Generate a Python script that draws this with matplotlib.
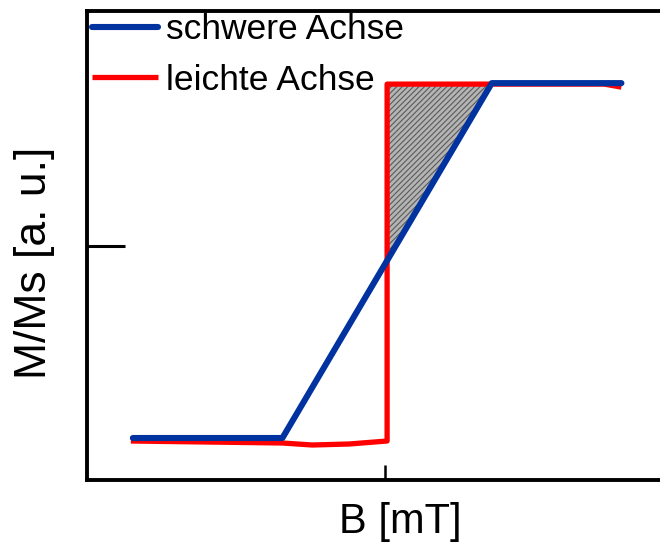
import numpy as np
import matplotlib
matplotlib.use("Agg")
import matplotlib.pyplot as plt

plt.rcParams['font.family'] = ['Liberation Sans', 'DejaVu Sans']
plt.rcParams['hatch.linewidth'] = 0.8

# hard axis: linear ramp between the two saturation levels
hard_B = [-2.53, -1.03, 1.07, 2.37]
hard_M = [-1.92, -1.92, 1.63, 1.63]

# easy axis: square loop, switching at B = 0
easy_B = [-2.55, -1.03, -0.73, -0.36, 0.02, 0.02, 1.00, 2.20, 2.37]
easy_M = [-1.95, -1.97, -1.99, -1.98, -1.95, 1.62, 1.62, 1.62, 1.59]

labels = ["schwere Achse", "leichte Achse"]

fig = plt.figure(figsize=(6.6, 5.49), dpi=100)
ax = fig.add_axes([0.1318, 0.1257, 0.92, 0.854])

# hatched area between the two curves above the switching field
switch_B = easy_B[4]
m_cross = np.interp(switch_B, hard_B, hard_M)
m_top = easy_M[5]
yy = np.linspace(m_cross, m_top, 50)
xx = np.interp(yy, hard_M[1:3], hard_B[1:3])
ax.fill_betweenx(yy, switch_B, xx, facecolor='#b4b4b4', edgecolor='#5a5a5a',
                 hatch='//////', linewidth=0, zorder=1)

ax.plot(easy_B, easy_M, color='#ff0000', lw=3.8, solid_joinstyle='round',
        solid_capstyle='butt', label=labels[1], zorder=2)
ax.plot(hard_B, hard_M, color='#0033a0', lw=4.4, solid_joinstyle='round',
        solid_capstyle='round', label=labels[0], zorder=3)

ax.set_xlim(-2.99, 3.1)
ax.set_ylim(-2.34, 2.35)
ax.set_xticks([0])
ax.set_yticks([0])
ax.set_xticklabels([])
ax.set_yticklabels([])
ax.tick_params(axis='x', direction='in', length=11, width=1.8, color='black')
ax.tick_params(axis='y', direction='in', length=27, width=2.2, color='black')
for sp in ax.spines.values():
    sp.set_linewidth(2.8)

ax.set_xlabel("B [mT]", fontsize=30)
ax.xaxis.set_label_coords(0.516, -0.047)
ax.set_ylabel("M/Ms [a. u.]", fontsize=32)
ax.yaxis.set_label_coords(-0.052, 0.463)

handles, labs = ax.get_legend_handles_labels()
ax.legend(handles[::-1], labs[::-1], loc='upper left', frameon=False,
          fontsize=25.5, handlelength=1.85, handletextpad=0.22, labelspacing=0.5,
          borderaxespad=0, borderpad=0.05, bbox_to_anchor=(0.006, 1.0))

fig.savefig("out.png", dpi=100)
